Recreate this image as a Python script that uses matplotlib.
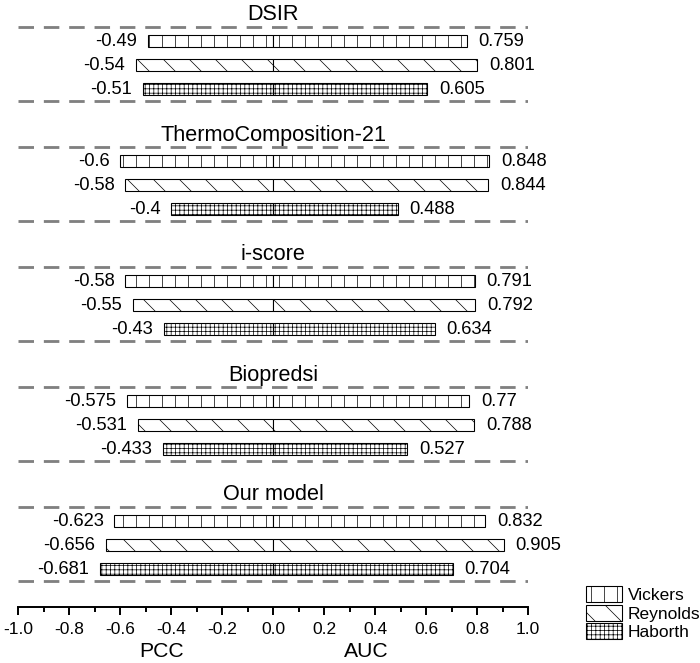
import matplotlib.pyplot as plt
from matplotlib.patches import Patch

# -----------------------------
# Data
# -----------------------------
models = ["DSIR", "ThermoComposition-21", "i-score", "Biopredsi", "Our model"]
methods = ["Vickers", "Reynolds", "Haborth"]

pcc_dsir = [-0.49, -0.54, -0.51]
pcc_thermo = [-0.6, -0.58, -0.4]
pcc_iscore = [-0.58, -0.55, -0.43]
pcc_biopredsi = [-0.575, -0.531, -0.433]
pcc_ours = [-0.623, -0.656, -0.681]

auc_dsir = [0.759, 0.801, 0.605]
auc_thermo = [0.848, 0.844, 0.488]
auc_iscore = [0.791, 0.792, 0.634]
auc_biopredsi = [0.77, 0.788, 0.527]
auc_ours = [0.832, 0.905, 0.704]

pcc = [pcc_dsir, pcc_thermo, pcc_iscore, pcc_biopredsi, pcc_ours]
auc = [auc_dsir, auc_thermo, auc_iscore, auc_biopredsi, auc_ours]

xticks = [-1.0, -0.8, -0.6, -0.4, -0.2, 0.0, 0.2, 0.4, 0.6, 0.8, 1.0]

# -----------------------------
# Style
# -----------------------------
plt.rcParams["font.family"] = ["Liberation Sans", "DejaVu Sans"]
plt.rcParams["axes.unicode_minus"] = False
plt.rcParams["hatch.linewidth"] = 0.65

hatches = ["|", "\\", "+++"]
dpi = 78
W, H = 700, 663

fig = plt.figure(figsize=(W / dpi, H / dpi), dpi=dpi)
ax_left, ax_right, ax_bottom = 18.3, 528.0, 606.7
ax = fig.add_axes([ax_left / W, 1 - ax_bottom / H, (ax_right - ax_left) / W, ax_bottom / H])
ax.set_xlim(-1, 1)
ax.set_ylim(ax_bottom, 0)  # y in pixels from top

group_step = 120
first_dash = 27
bar_step = 24
bar_h = 12

for g, name in enumerate(models):
    top = first_dash + g * group_step
    bottom = top + 14 + 2 * bar_step + 12
    ax.hlines([top, bottom], -1, 1, colors="#808080", linestyles=(0, (5.5, 3.5)), lw=2.6)
    ax.text(0, top - 6.5, name, ha="center", va="baseline", fontsize=20)
    for i in range(3):
        y = top + 14 + i * bar_step
        ax.barh(y, pcc[g][i], height=bar_h, color="white", edgecolor="black",
                hatch=hatches[i], lw=1.0)
        ax.barh(y, auc[g][i], height=bar_h, color="white", edgecolor="black",
                hatch=hatches[i], lw=1.0)
        ax.annotate(f"{pcc[g][i]:g}", (pcc[g][i], y), xytext=(-10, 0),
                    textcoords="offset points", ha="right", va="center", fontsize=17)
        ax.annotate(f"{auc[g][i]:g}", (auc[g][i], y), xytext=(11, 0),
                    textcoords="offset points", ha="left", va="center", fontsize=17)

# -----------------------------
# Axis
# -----------------------------
for s in ["left", "right", "top"]:
    ax.spines[s].set_visible(False)
ax.spines["bottom"].set_linewidth(1.8)
ax.set_yticks([])
ax.set_xticks(xticks)
ax.set_xticklabels([f"{t:.1f}" for t in xticks], fontsize=16)
ax.set_xticks([-0.9, -0.7, -0.5, -0.3, -0.1, 0.1, 0.3, 0.5, 0.7, 0.9], minor=True)
ax.tick_params(axis="x", which="major", length=7.5, width=1.8, pad=7)
ax.tick_params(axis="x", which="minor", length=4.5, width=1.8)

ax.text(-0.436, 657, "PCC", ha="center", va="baseline", fontsize=19.5, clip_on=False)
ax.text(0.365, 657, "AUC", ha="center", va="baseline", fontsize=19.5, clip_on=False)

# -----------------------------
# Legend
# -----------------------------
handles = [Patch(facecolor="white", edgecolor="black", hatch=h, lw=1.0) for h in hatches]
fig.legend(handles, methods, loc="upper left", bbox_to_anchor=(586 / W, 1 - 586 / H),
           frameon=False, fontsize=16, handlelength=2.1, handleheight=1.05,
           labelspacing=0.1, handletextpad=0.3, borderpad=0, borderaxespad=0)

plt.savefig("out.png", dpi=dpi)
